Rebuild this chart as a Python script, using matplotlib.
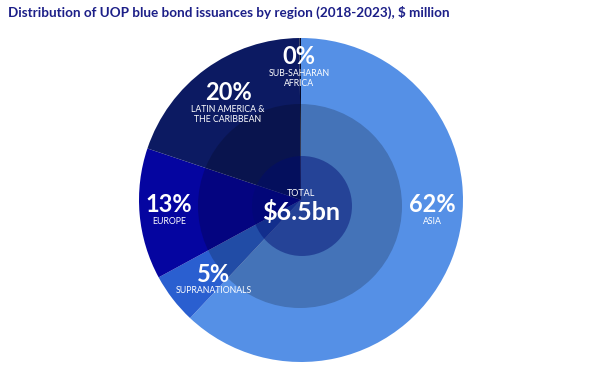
import numpy as np
import matplotlib
matplotlib.use('Agg')
import matplotlib.pyplot as plt
from matplotlib.patches import Circle

# data: UOP blue bond issuances by region, $ million (2018-2023)
regions = ['ASIA', 'SUPRANATIONALS', 'EUROPE', 'LATIN AMERICA &\nTHE CARIBBEAN',
           'SUB-SAHARAN\nAFRICA']
values = [4030, 330, 850, 1280, 10]
colors = ['#5590e6', '#2a5fd0', '#0505a0', '#0c1a62', '#050a2a']
total_label = '$6.5bn'

title = 'Distribution of UOP blue bond issuances by region (2018-2023), $ million'

plt.rcParams['font.family'] = ['Lato', 'DejaVu Sans']

fig = plt.figure(figsize=(6.02, 3.77), dpi=100)
ax = fig.add_axes([0, 0, 1, 1])

# pixel-like coordinates, y up
W, H = 602, 377
cx, cy, r = 301, H - 200, 162

ax.pie(values, colors=colors, startangle=90, counterclock=False,
       center=(cx, cy), radius=r, frame=True,
       wedgeprops=dict(linewidth=0))

# darker rings towards the middle
ax.add_patch(Circle((300, H - 206), 102, color='black', alpha=0.2, lw=0))
ax.add_patch(Circle((302, H - 206), 50, color='#000a70', alpha=0.45, lw=0))

ax.set_xlim(0, W)
ax.set_ylim(0, H)
ax.axis('off')

# percentage labels
pcts = np.array(values) / sum(values) * 100
label_pos = [(432, 205), (214, 274), (169, 205), (228, 93), (299, 57)]
for name, p, (x, y) in zip(regions, pcts, label_pos):
    ax.text(x, H - y, '%d%%' % round(p), color='white', fontsize=17,
            fontweight='bold', ha='center', va='center')
    ax.text(x, H - (y + 12), name, color='white', fontsize=6.3,
            ha='center', va='top', linespacing=1.15)

ax.text(301, H - 194, 'TOTAL', color='white', fontsize=6.5,
        ha='center', va='center')
ax.text(301, H - 212, total_label, color='white', fontsize=18,
        fontweight='bold', ha='center', va='center')

fig.text(8 / W, 1 - 12 / H, title, color='#1c1f88', fontsize=9.7,
         fontweight='bold', ha='left', va='center')

fig.savefig('out.png', dpi=100)
